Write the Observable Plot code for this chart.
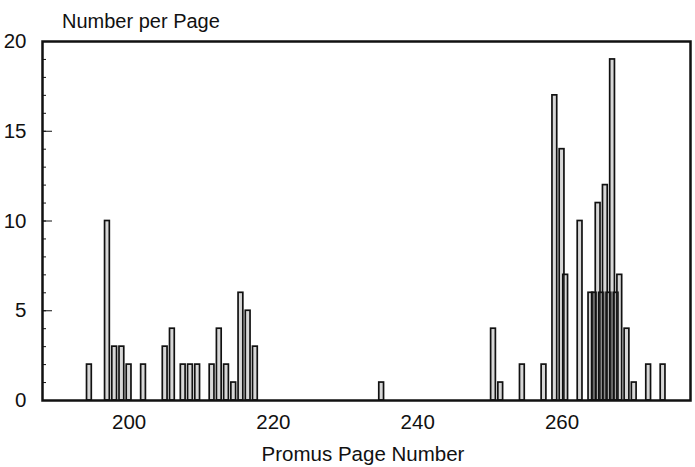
<!DOCTYPE html>
<html>
<head>
<meta charset="utf-8">
<script src="https://cdn.jsdelivr.net/npm/d3@7"></script>
<script src="https://cdn.jsdelivr.net/npm/@observablehq/plot@0.6"></script>
<style>
  body { margin: 0; background: #fff; }
  #chart svg { display: block; }
</style>
</head>
<body>
<div id="chart"></div>
<script>
// Entries per Promus page (half-page steps where a page splits into columns)
const pages = [194.5, 197, 198, 199, 200, 202, 205, 206, 207.5, 208.5, 209.5,
  211.5, 212.5, 213.5, 214.5, 215.5, 216.5, 217.5, 235,
  250.5, 251.5, 254.5, 257.5, 259, 260, 260.5, 262.5,
  264, 264.5, 265, 265.5, 266, 266.5, 267, 267.5, 268, 269, 270, 272, 274];
const counts = [2, 10, 3, 3, 2, 2, 3, 4, 2, 2, 2,
  2, 4, 2, 1, 6, 5, 3, 1,
  4, 1, 2, 2, 17, 14, 7, 10,
  6, 6, 11, 6, 12, 6, 19, 6, 7, 4, 1, 2, 2];

const xTicks = [200, 220, 240, 260];
const yMajor = [0, 5, 10, 15, 20];
const yMinor = d3.range(0, 21);

const entries = pages.map((page, i) => ({page, count: counts[i]}));
const half = 0.33; // half of a bar's width, in pages

const chart = Plot.plot({
  width: 695,
  height: 467,
  marginTop: 41,
  marginBottom: 67,
  marginLeft: 42,
  marginRight: 5,
  style: {fontFamily: "'Liberation Sans', Arial, sans-serif", fontSize: "20px", color: "#111", background: "#fff"},
  x: {domain: [188, 277.8]},
  y: {domain: [0, 20]},
  marks: [
    Plot.rect(entries, {
      x1: d => d.page - half,
      x2: d => d.page + half,
      y1: 0,
      y2: "count",
      fill: "#7a7a7a",
      fillOpacity: 0.3,
      stroke: "#111",
      strokeWidth: 1.7
    }),
    Plot.axisX({ticks: xTicks, tickSize: 0, tickPadding: 14, label: null, fontSize: 20.5}),
    Plot.axisY({ticks: yMajor, tickSize: 0, tickPadding: 16, label: null, fontSize: 20.5}),
    Plot.axisY({ticks: yMinor, tickSize: -4, tickFormat: () => "", label: null}),
    Plot.axisY({ticks: yMajor, tickSize: -10, tickFormat: () => "", label: null}),
    Plot.frame({stroke: "#111", strokeWidth: 2.5})
  ]
});

const svg = d3.select(chart);
svg.append("text")
  .attr("x", 62).attr("y", 28)
  .attr("text-anchor", "start")
  .attr("font-size", 20).attr("fill", "#111")
  .text("Number per Page");
svg.append("text")
  .attr("x", 363).attr("y", 461)
  .attr("text-anchor", "middle")
  .attr("font-size", 20.5).attr("fill", "#111")
  .text("Promus Page Number");

document.getElementById("chart").append(chart);
</script>
</body>
</html>
